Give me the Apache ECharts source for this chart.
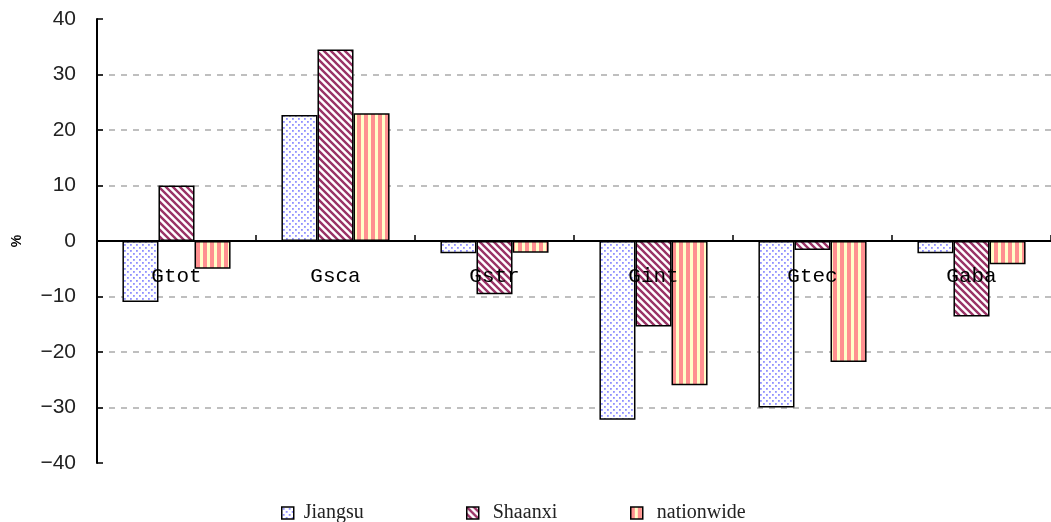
<!DOCTYPE html>
<html>
<head>
<meta charset="utf-8">
<script src="https://cdn.jsdelivr.net/npm/echarts@6/dist/echarts.min.js"></script>
<style>
  html, body { margin: 0; padding: 0; background: #fff; }
  #chart { width: 1051px; height: 522px; }
</style>
</head>
<body>
<div id="chart"></div>
<script>
var categories = ['Gtot', 'Gsca', 'Gstr', 'Gint', 'Gtec', 'Gaba'];
var jiangsu = [-11, 22.7, -2.2, -32.2, -30, -2.2];
var shaanxi = [10, 34.5, -9.6, -15.4, -1.6, -13.6];
var nationwide = [-5, 23, -2.1, -26, -21.8, -4.2];
var yTicks = [-40, -30, -20, -10, 0, 10, 20, 30, 40];

// fill patterns
function tile(w, h, draw) {
    var c = document.createElement('canvas');
    c.width = w; c.height = h;
    draw(c.getContext('2d'));
    return c;
}
var dots = tile(6, 6, function (ctx) {
    ctx.fillStyle = '#fff';
    ctx.fillRect(0, 0, 6, 6);
    ctx.fillStyle = '#9090ff';
    ctx.fillRect(1, 1, 1.8, 1.8);
    ctx.fillRect(4, 4, 1.8, 1.8);
});
var diag = tile(7, 7, function (ctx) {
    ctx.fillStyle = '#fff';
    ctx.fillRect(0, 0, 7, 7);
    ctx.strokeStyle = '#993366';
    ctx.lineWidth = 2.4;
    ctx.beginPath();
    for (var k = -7; k <= 7; k += 7) {
        ctx.moveTo(k - 1, -1);
        ctx.lineTo(k + 8, 8);
    }
    ctx.stroke();
});
var vert = tile(7, 4, function (ctx) {
    ctx.fillStyle = '#ffffc8';
    ctx.fillRect(0, 0, 7, 4);
    ctx.fillStyle = '#ff9090';
    ctx.fillRect(0, 0, 4, 4);
});

function pat(c) { return { image: c, repeat: 'repeat' }; }

function barSeries(name, data, fill) {
    return {
        name: name,
        type: 'bar',
        data: data,
        barGap: '0%',
        barCategoryGap: '32%',
        itemStyle: { color: pat(fill), borderColor: '#000', borderWidth: 1.5 }
    };
}

var legendText = { fontFamily: 'Liberation Serif', fontSize: 20, color: '#222' };
function legendAt(name, left, gap) {
    return {
        data: [name], left: left, top: 503, icon: 'rect', itemWidth: 12, itemHeight: 12,
        itemGap: 0, padding: 0,
        textStyle: Object.assign({ padding: [0, 0, 0, gap] }, legendText),
        itemStyle: { borderColor: '#000', borderWidth: 1.5 }
    };
}

var myChart = echarts.init(document.getElementById('chart'));
var option = {
    backgroundColor: '#fff',
    animation: false,
    grid: { left: 97, right: 0, top: 19, bottom: 59 },
    legend: [
        legendAt('Jiangsu', 281, 5),
        legendAt('Shaanxi', 466, 9),
        legendAt('nationwide', 630, 9)
    ],
    xAxis: [{
        type: 'category',
        data: categories,
        axisLine: { onZero: true, lineStyle: { color: '#000', width: 2 } },
        axisTick: { show: true, inside: true, length: 6, lineStyle: { color: '#000', width: 1.5 } },
        axisLabel: { show: false },
        z: 10
    }, {
        // label-only axis, sitting on the zero line
        type: 'category',
        data: categories,
        position: 'bottom',
        offset: -223,
        axisLine: { show: false },
        axisTick: { show: false },
        axisLabel: {
            interval: 0, margin: 26, color: '#000',
            fontFamily: 'Liberation Mono', fontSize: 21
        },
        z: 12
    }],
    yAxis: {
        type: 'value',
        min: yTicks[0],
        max: yTicks[yTicks.length - 1],
        interval: 10,
        name: '%',
        nameLocation: 'middle',
        nameGap: 73,
        nameRotate: 90,
        nameTextStyle: { fontSize: 14, fontWeight: 'bold', color: '#000' },
        axisLine: { show: true, lineStyle: { color: '#000', width: 2 } },
        axisTick: { show: true, inside: true, length: 6, lineStyle: { color: '#000', width: 1.5 } },
        axisLabel: {
            margin: 21, color: '#222',
            fontFamily: 'Liberation Sans', fontSize: 21,
            formatter: function (v) { return String(v).replace('-', '\u2212'); }
        },
        splitLine: {
            show: true, showMinLine: false, showMaxLine: false,
            lineStyle: { color: '#aaa', type: [6, 6], width: 1.5 }
        }
    },
    series: [
        barSeries('Jiangsu', jiangsu, dots),
        barSeries('Shaanxi', shaanxi, diag),
        barSeries('nationwide', nationwide, vert)
    ]
};
myChart.setOption(option);
</script>
</body>
</html>
